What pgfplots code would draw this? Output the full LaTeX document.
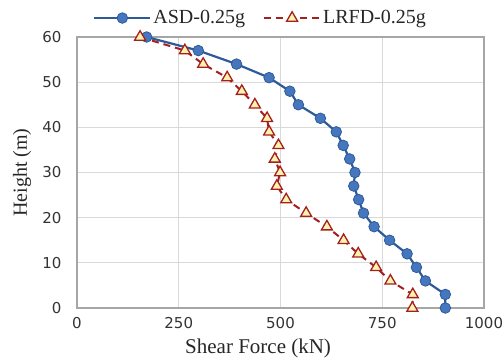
\documentclass[border=0pt]{standalone}
\usepackage{fontspec}
\setmainfont{Liberation Serif}
\newfontfamily\tickfont{DejaVu Sans}
\usepackage{pgfplots}
\pgfplotsset{compat=1.18}

\definecolor{asdline}{HTML}{2E5B98}
\definecolor{asdfill}{HTML}{4677BE}
\definecolor{lrfdline}{HTML}{A3201E}
\definecolor{lrfdfill}{HTML}{FFF2AE}
\definecolor{gridgray}{HTML}{D9D9D9}
\definecolor{axisgray}{HTML}{A6A6A6}

\begin{document}
\begin{tikzpicture}
\useasboundingbox (-77bp,-52bp) rectangle (426bp,308bp);
\begin{axis}[
  at={(0,0)}, anchor=south west,
  scale only axis, width=407bp, height=271bp,
  xmin=0, xmax=1000, ymin=0, ymax=60,
  xtick={0,250,500,750,1000}, ytick={0,10,...,60},
  major tick length=0pt,
  grid=major,
  grid style={gridgray, line width=1.3bp},
  axis line style={axisgray, line width=1.3bp},
  clip=false,
  /pgf/number format/assume math mode=true,
  /pgf/number format/1000 sep={},
  tick label style={font=\tickfont\fontsize{15bp}{18bp}\selectfont, text=black!80},
  yticklabel style={xshift=-12bp},
  xticklabel style={yshift=-6bp},
  xlabel={Shear Force (kN)},
  ylabel={Height (m)},
  label style={font=\fontsize{21bp}{25bp}\selectfont, text=black!85},
  xlabel style={at={(axis description cs:0.445,-0.151)}, anchor=center},
  ylabel style={at={(axis description cs:-0.135,0.5)}, anchor=center, font=\fontsize{20bp}{24bp}\selectfont},
  legend style={at={(axis description cs:0.451,1.07)}, anchor=center, draw=none, fill=none,
    legend columns=2, font=\fontsize{20bp}{24bp}\selectfont, text=black!85,
    /tikz/every even column/.append style={column sep=16bp},
    legend cell align=left, inner sep=0pt},
  legend image code/.code={%
    \draw[mark repeat=2, mark phase=2] plot coordinates {(0bp,0bp) (28bp,0bp) (56bp,0bp)};},
]
% ASD design, storey shear along the height
\addplot[asdline, line width=2.2bp, mark=*, mark size=5.3bp,
  mark options={solid, fill=asdfill, draw=asdline, line width=0.8bp}]
  table {
x   y
905 0
905 3
856 6
834 9
811 12
768 15
730 18
704 21
692 24
680 27
683 30
670 33
654 36
637 39
598 42
544 45
523 48
472 51
392 54
298 57
171 60
};
\addlegendentry{ASD-0.25g}
% LRFD design, storey shear along the height
\addplot[lrfdline, line width=2bp, dash pattern=on 7bp off 5bp, mark=triangle*, mark size=6.3bp,
  mark options={solid, fill=lrfdfill, draw=lrfdline, line width=1.3bp}]
  table {
x   y
824 0
825 3
770 6
735 9
691 12
655 15
614 18
563 21
514 24
491 27
499 30
486 33
495 36
472 39
467 42
437 45
405 48
369 51
310 54
265 57
155 60
};
\addlegendentry{LRFD-0.25g}
\end{axis}
\end{tikzpicture}
\end{document}
